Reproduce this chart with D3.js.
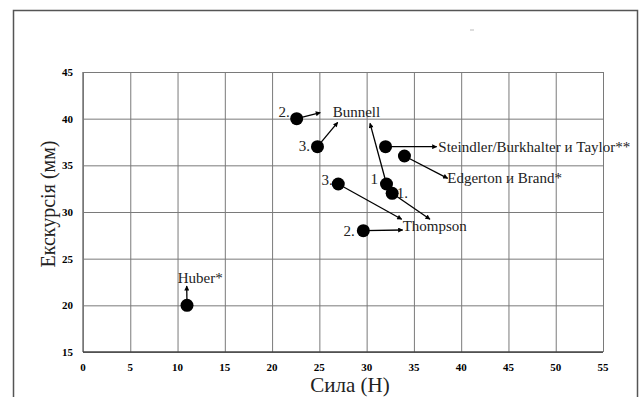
<!DOCTYPE html>
<html>
<head>
<meta charset="utf-8">
<script src="https://cdn.jsdelivr.net/npm/d3@7"></script>
<style>
  body { margin: 0; background: #fff; }
</style>
</head>
<body>
<div id="chart"></div>
<script>
// study points: force (N) vs excursion (mm)
const studyX = [11, 22.6, 24.8, 32, 34, 27, 32.1, 32.7, 29.65];
const studyY = [20, 40, 37, 37, 36, 33, 33, 32, 28];
const pointTags = ['', '2.', '3.', '', '', '3.', '1', '1.', '2.'];
// where each arrow points to (data units)
const arrowX = [10.97, 25.1, 26.94, 37.41, 38.57, 33.71, 30.36, 36.7, 33.81];
const arrowY = [22.07, 40.64, 39.61, 37.0, 33.61, 29.22, 39.5, 29.22, 28.07];

const labelText = ['Huber*', 'Bunnell', 'Steindler/Burkhalter и Taylor**', 'Edgerton и Brand*', 'Thompson'];
const labelX = [10.02, 26.41, 37.58, 38.53, 33.81];
const labelY = [22.43, 40.21, 36.43, 33.07, 27.96];

const xTicks = [0, 5, 10, 15, 20, 25, 30, 35, 40, 45, 50, 55];
const yTicks = [15, 20, 25, 30, 35, 40, 45];
const xTitle = 'Сила (Н)';
const yTitle = 'Екскурсія (мм)';

const width = 643, height = 397;
const plotLeft = 83, plotRight = 603, plotTop = 72, plotBottom = 352;
const serif = "'Liberation Serif', 'Times New Roman', Times, serif";

const svg = d3.select('#chart').append('svg')
    .attr('width', width)
    .attr('height', height)
    .attr('font-family', serif)
    .style('font-family', serif);

// outer frame
svg.append('rect')
    .attr('x', 13.5).attr('y', 10.5)
    .attr('width', 624).attr('height', 400)
    .attr('fill', 'none')
    .attr('stroke', '#555')
    .attr('stroke-width', 1.5);

// stray mark at the top
svg.append('line')
    .attr('x1', 470).attr('x2', 474).attr('y1', 30).attr('y2', 30)
    .attr('stroke', '#bbb');

const x = d3.scaleLinear().domain([0, 55]).range([plotLeft, plotRight]);
const y = d3.scaleLinear().domain([15, 45]).range([plotBottom, plotTop]);

// grid
svg.append('g')
    .attr('transform', `translate(0,${plotBottom})`)
    .call(d3.axisBottom(x).tickValues(xTicks).tickSize(-(plotBottom - plotTop)).tickFormat(''))
    .call(g => g.select('.domain').remove())
    .selectAll('line').attr('stroke', '#7a7a7a');
svg.append('g')
    .attr('transform', `translate(${plotLeft},0)`)
    .call(d3.axisLeft(y).tickValues(yTicks).tickSize(-(plotRight - plotLeft)).tickFormat(''))
    .call(g => g.select('.domain').remove())
    .selectAll('line').attr('stroke', '#7a7a7a');

// axis lines
svg.append('line')
    .attr('x1', plotLeft).attr('x2', plotLeft).attr('y1', plotTop).attr('y2', plotBottom)
    .attr('stroke', '#777').attr('stroke-width', 1.5);
svg.append('line')
    .attr('x1', plotLeft).attr('x2', plotRight).attr('y1', plotBottom).attr('y2', plotBottom)
    .attr('stroke', '#444').attr('stroke-width', 1.5);

// tick labels
svg.append('g').selectAll('text')
    .data(xTicks).join('text')
    .attr('x', d => x(d)).attr('y', plotBottom + 19)
    .attr('text-anchor', 'middle')
    .attr('font-size', 11).attr('font-weight', 'bold')
    .text(d => d);
svg.append('g').selectAll('text')
    .data(yTicks).join('text')
    .attr('x', plotLeft - 10).attr('y', d => y(d) + 4)
    .attr('text-anchor', 'end')
    .attr('font-size', 11).attr('font-weight', 'bold')
    .text(d => d);

// axis titles
svg.append('text')
    .attr('x', 350).attr('y', 392)
    .attr('text-anchor', 'middle')
    .attr('font-size', 21)
    .attr('fill', '#222')
    .text(xTitle);
svg.append('text')
    .attr('transform', 'translate(55,204) rotate(-90)')
    .attr('text-anchor', 'middle')
    .attr('font-size', 20)
    .attr('fill', '#222')
    .text(yTitle);

// arrows
svg.append('defs').append('marker')
    .attr('id', 'head')
    .attr('viewBox', '0 0 10 10')
    .attr('refX', 9).attr('refY', 5)
    .attr('markerWidth', 6).attr('markerHeight', 5)
    .attr('markerUnits', 'userSpaceOnUse')
    .attr('orient', 'auto')
    .append('path')
    .attr('d', 'M0,0L10,5L0,10Z')
    .attr('fill', '#000');

svg.append('g').selectAll('line')
    .data(studyX).join('line')
    .attr('x1', (d, i) => x(d))
    .attr('y1', (d, i) => y(studyY[i]))
    .attr('x2', (d, i) => x(arrowX[i]))
    .attr('y2', (d, i) => y(arrowY[i]))
    .attr('stroke', '#000')
    .attr('stroke-width', 1.3)
    .attr('marker-end', 'url(#head)');

// points
svg.append('g').selectAll('circle')
    .data(studyX).join('circle')
    .attr('cx', d => x(d))
    .attr('cy', (d, i) => y(studyY[i]))
    .attr('r', 6.5)
    .attr('fill', '#000');

// small number tags next to the points
const tagDx = [0, -7, -7.5, 0, 0, -5.5, -8.5, 4.5, -8.5];
const tagDy = [0, -2, 4.5, 0, 0, 1, 0, 4.5, 5.5];
svg.append('g').selectAll('text')
    .data(pointTags).join('text')
    .attr('x', (d, i) => x(studyX[i]) + tagDx[i])
    .attr('y', (d, i) => y(studyY[i]) + tagDy[i])
    .attr('text-anchor', (d, i) => tagDx[i] < 0 ? 'end' : 'start')
    .attr('font-size', 15)
    .attr('fill', '#222')
    .text(d => d);

// study labels
svg.append('g').selectAll('text')
    .data(labelText).join('text')
    .attr('x', (d, i) => x(labelX[i]))
    .attr('y', (d, i) => y(labelY[i]))
    .attr('font-size', 15)
    .attr('fill', '#222')
    .text(d => d);
</script>
</body>
</html>
